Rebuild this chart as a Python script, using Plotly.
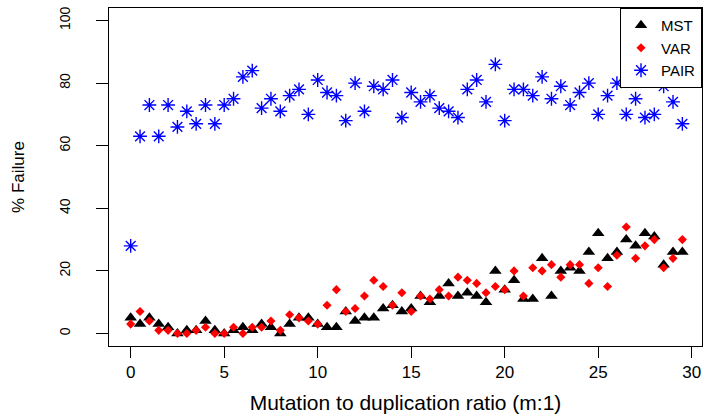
import plotly.graph_objects as go

ratio = [i * 0.5 for i in range(60)]

mst = [5, 3, 5, 3, 2, 0, 1, 1, 4, 1,
       0, 1, 2, 1, 3, 2, 0, 3, 5, 5,
       3, 2, 2, 7, 4, 5, 5, 8, 9, 7,
       8, 12, 10, 12, 16, 12, 13, 12, 10, 20,
       14, 17, 11, 11, 24, 12, 20, 21, 20, 26,
       32, 24, 26, 30, 28, 32, 31, 22, 26, 26]

var = [3, 7, 4, 1, 1, 0, 0, 1, 2, 0,
       0, 2, 0, 2, 2, 4, 1, 6, 5, 4,
       3, 9, 14, 7, 8, 12, 17, 15, 9, 13,
       7, 12, 11, 14, 12, 18, 17, 16, 13, 15,
       14, 20, 12, 21, 20, 22, 18, 22, 22, 16,
       21, 15, 25, 34, 24, 28, 30, 21, 24, 30]

pair = [28, 63, 73, 63, 73, 66, 71, 67, 73, 67,
        73, 75, 82, 84, 72, 75, 71, 76, 78, 70,
        81, 77, 76, 68, 80, 71, 79, 78, 81, 69,
        77, 74, 76, 72, 71, 69, 78, 81, 74, 86,
        68, 78, 78, 76, 82, 75, 79, 73, 77, 80,
        70, 76, 80, 70, 75, 69, 70, 79, 74, 67]

x_ticks = [0, 5, 10, 15, 20, 25, 30]
y_ticks = [0, 20, 40, 60, 80, 100]

FONT = "Liberation Sans, Arial, Helvetica, sans-serif"

fig = go.Figure()
fig.add_trace(go.Scatter(
    x=ratio, y=mst, mode="markers", name="MST",
    marker=dict(symbol="triangle-up", size=11, color="black", line=dict(width=0))))
fig.add_trace(go.Scatter(
    x=ratio, y=var, mode="markers", name="VAR",
    marker=dict(symbol="diamond", size=7, color="red", line=dict(width=0))))
fig.add_trace(go.Scatter(
    x=ratio, y=pair, mode="markers", name="PAIR",
    marker=dict(symbol="asterisk-open", size=11.5, color="blue",
                line=dict(width=1.4, color="blue"))))

fig.update_layout(
    width=703, height=419,
    margin=dict(l=109, r=1, t=8, b=73),
    paper_bgcolor="white", plot_bgcolor="white",
    font=dict(family=FONT, color="black"),
    showlegend=True,
    legend=dict(x=1, y=1, xanchor="right", yanchor="top",
                bgcolor="white", bordercolor="black", borderwidth=1,
                font=dict(size=15, family=FONT, color="black"),
                tracegroupgap=0),
)
fig.update_xaxes(
    range=[-1.16, 30.55], tickvals=x_ticks, ticktext=[str(v) for v in x_ticks],
    showgrid=False, zeroline=False, showline=True, linecolor="black", linewidth=1,
    mirror=True, ticks="outside", ticklen=11, tickcolor="black", tickwidth=1,
    tickfont=dict(size=17, family=FONT, color="black"),
    title=dict(text="Mutation to duplication ratio (m:1)",
               font=dict(size=21, family=FONT, color="black"), standoff=13),
)
fig.update_yaxes(
    range=[-4, 104], tickvals=y_ticks, ticktext=[str(v) for v in y_ticks],
    showgrid=False, zeroline=False, showline=True, linecolor="black", linewidth=1,
    mirror=True, ticks="outside", ticklen=12, tickcolor="black", tickwidth=1,
    tickangle=-90, ticklabelstandoff=20,
    tickfont=dict(size=14, family=FONT, color="black"),
    title=dict(text="% Failure", font=dict(size=17, family=FONT, color="black"), standoff=28),
)

fig.write_html("out.html")
